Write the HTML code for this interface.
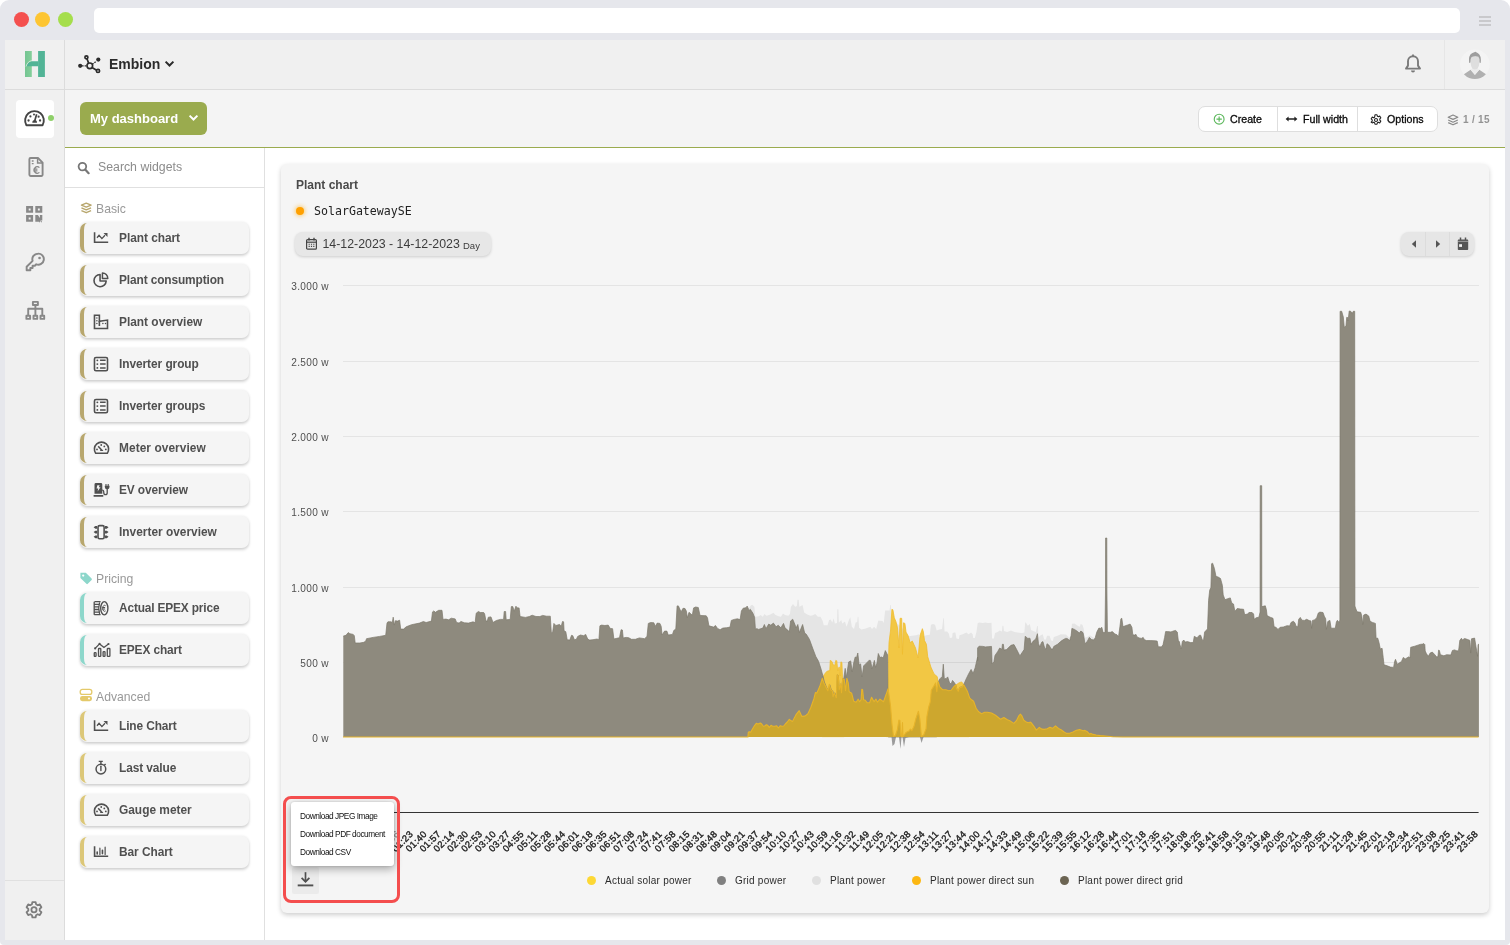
<!DOCTYPE html>
<html lang="en"><head><meta charset="utf-8"><title>Embion - My dashboard</title>
<style>
*{box-sizing:border-box;margin:0;padding:0}
html,body{width:1510px;height:945px;overflow:hidden;background:#fff}
body{font-family:"Liberation Sans",sans-serif;color:#444;position:relative}
.abs,.frame *{position:absolute}
.frame{position:absolute;left:0;top:0;width:1510px;height:945px;background:#e6e7ec;border-radius:9px 9px 4px 4px;overflow:hidden}
.dot{width:15px;height:15px;border-radius:50%;top:12.4px}
.url{left:94px;top:8px;width:1366px;height:25px;background:#fff;border-radius:5px}
.ham{left:1479px;width:12px;height:2px;background:#c9c9cc}
.app{left:5px;top:40px;width:1500px;height:900px;background:#fff;overflow:hidden}
.topbar{left:0;top:0;width:1500px;height:50px;background:#f0f0f0;border-bottom:1px solid #dcdcdc}
.side{left:0;top:0;width:60px;height:900px;background:#f0f0f0;border-right:1px solid #dcdcdc}
.toolbar{left:60px;top:50px;width:1440px;height:58px;background:#f4f4f4;border-bottom:1px solid #9aab4e}
.panel{left:60px;top:108px;width:200px;height:792px;background:#fff;border-right:1px solid #e0e0e0}
.wi b{left:0;top:.8px;width:10px;height:30.4px;border-left:4px solid #b8a76e;border-radius:7px 0 0 7px}
.wi{left:75px;width:169px;height:32px;background:#f5f5f5;border-radius:7px;box-shadow:0 0 3px rgba(0,0,0,.07),0 2px 3px rgba(0,0,0,.16);}
.wi .ic{left:13.1px;top:8px;width:18px;height:16px}
.wi span{left:39px;top:-.5px;line-height:32px;font-weight:bold;font-size:11.9px;color:#505050;white-space:nowrap}
.sec{left:91px;font-size:12.2px;color:#999;line-height:14px}
.card{left:276px;top:124px;width:1207.7px;height:748.6px;background:#f5f5f5;border-radius:6px;box-shadow:0 2px 5px rgba(0,0,0,.2)}
svg.chart{left:0;top:0}
.btng{left:1193px;top:65.7px;width:239.5px;height:26.3px;background:#fff;border:1px solid #dedede;border-radius:7px}
.btng span{top:1.1px;line-height:23px;-webkit-text-stroke:.3px #0a0a0a;font-size:10.65px;color:#0a0a0a;white-space:nowrap}
.btng i{top:0;width:1px;height:24.3px;background:#dedede}
</style></head><body>
<div class="frame">
 <div class="dot" style="left:13.55px;background:#f4504f"></div>
 <div class="dot" style="left:35.45px;background:#fdc532"></div>
 <div class="dot" style="left:57.5px;background:#a5de4c"></div>
 <div class="url"></div>
 <div class="ham" style="top:16px"></div><div class="ham" style="top:20px"></div><div class="ham" style="top:24px"></div>
 <div class="app">
  <div class="topbar"></div>
  <div class="side"></div>
  <div class="toolbar"></div>
  <div class="panel"></div>
  <div style="left:0;top:49px;width:1500px;height:1px;background:#dcdcdc"></div>
  <!-- logo -->
  <svg style="left:20px;top:11px" width="20" height="26" viewBox="0 0 20 26"><defs><linearGradient id="lg" x1="0" x2="1"><stop offset="0" stop-color="#74c592"/><stop offset="1" stop-color="#84cf9a"/></linearGradient></defs><path d="M0 0h6.800v26H0z" fill="url(#lg)"/><path d="M13.100 0h6.800v26h-6.800z" fill="#52b496"/><path d="M1.300 15.200Q2.800 11 6.900 10.300H13.200V15.200Z" fill="#52b496"/><path d="M1 15.500Q2.500 10.400 6.900 9.600" stroke="#f0f0f0" stroke-width=".7" fill="none"/></svg>
  <!-- org -->
  <svg style="left:73px;top:14px" width="24" height="20" viewBox="78 54 24 20"><g fill="none" stroke="#2b2b2b" stroke-width="1.7"><circle cx="89.8" cy="65.8" r="2.8"/><circle cx="86.4" cy="57.3" r="1.5"/><circle cx="98" cy="70.9" r="1.6"/><path d="M87 58.800l1.600 4.300M92 67.600l4.600 2.600"/><path d="M82 65.800h5M92.300 64.200l4.300-3.200" stroke-width="1.3" stroke-dasharray="1.6 1"/></g><circle cx="80.200" cy="65.800" r="2.100" fill="#2b2b2b"/><circle cx="98.300" cy="59.600" r="2.100" fill="#2b2b2b"/></svg>
  <div style="left:104px;top:15px;font-size:14px;font-weight:bold;color:#2b2b2b;line-height:18px">Embion</div>
  <svg style="left:159px;top:20px" width="11" height="8" viewBox="0 0 11 8"><path d="M1.6 1.6l3.9 3.9 3.9-3.9" fill="none" stroke="#2b2b2b" stroke-width="2"/></svg>
  <!-- bell / avatar -->
  <svg style="left:1399px;top:13px" width="18" height="22" viewBox="0 0 18 22"><path d="M9 3.2a5 5 0 0 0-5 5v4.4L2 15.6h14L14 12.6V8.2a5 5 0 0 0-5-5z" fill="none" stroke="#7a7a7a" stroke-width="1.9" stroke-linejoin="round"/><path d="M9 1.4v1.8" stroke="#777" stroke-width="1.8"/><path d="M7 17.4a2 2 0 0 0 4 0z" fill="#777"/></svg>
  <div style="left:1439px;top:0;width:1px;height:49px;background:#e6e6e6"></div>
  <svg style="left:1454px;top:9px" width="32" height="32" viewBox="0 0 32 32"><defs><clipPath id="av"><circle cx="15.900" cy="15.300" r="14.800"/></clipPath></defs><circle cx="15.900" cy="15.300" r="14.800" fill="#f4f4f4"/><g clip-path="url(#av)"><path d="M4.600 25.400L11.600 20.800 15.900 25.800 20.300 20.800 27.400 25.400V31H4.600Z" fill="#b0b0b0"/><path d="M11.600 20.800L15.900 26 20.300 20.800 18.600 19.300H13.300Z" fill="#ececec"/><path d="M11.600 9.500Q11.400 7.600 14 7.400H18Q20.600 7.600 20.400 9.500V14Q20 18 18.600 19.600 16 21.400 13.300 19.600 12 18 11.600 14Z" fill="#dedede"/><path d="M10.100 13.900Q9.200 6.200 13 4.200L16.400 2.800 19 4.200Q22.600 6.400 21.700 13.900L20.500 13.600Q20.900 9.400 19.400 7.800 16.200 6.600 12.600 8 11.300 9.400 11.400 13.600Z" fill="#9e9e9e"/></g></svg>
  <!-- side icons -->
  <div style="left:11px;top:60px;width:38px;height:38px;background:#fff;border-radius:4px"></div>
  <svg style="left:18px;top:69px" width="23" height="19" viewBox="0 0 23 19"><path d="M3.4 16.250A9.370 9.370 0 1 1 19.550 16.250Z" fill="none" stroke="#444" stroke-width="1.900" stroke-linejoin="round"/><path d="M13.640 5.300L11.700 11.900" stroke="#444" stroke-width="1.700"/><path d="M9.300 13.750a2.350 2.700 0 0 1 4.700 0z" fill="#444"/><g fill="#444"><circle cx="7.400" cy="7.450" r="1.100"/><circle cx="11" cy="5.600" r="1"/><circle cx="15.600" cy="7.700" r="1.100"/><circle cx="5.550" cy="11.500" r="1.150"/><circle cx="17.050" cy="11.500" r="1.150"/></g></svg>
  <div style="left:43.1px;top:74.5px;width:6.3px;height:6.3px;border-radius:50%;background:#8fd06a"></div>
  <svg style="left:21.5px;top:115.500px" width="18" height="22" viewBox="0 0 18 22"><path d="M2.400 3.200A1.200 1.200 0 0 1 3.600 2h7.400l4.600 4.600V18.800A1.200 1.200 0 0 1 14.400 20H3.600A1.200 1.200 0 0 1 2.400 18.800z" fill="none" stroke="#888" stroke-width="1.900" stroke-linejoin="round"/><path d="M10.600 2.400v4.600h4.600" fill="none" stroke="#888" stroke-width="1.500"/><path d="M12.400 11.600a3.100 3.300 0 1 0 0 4.800M6.400 13.200h4M6.400 14.900h4" fill="none" stroke="#888" stroke-width="1.300"/><path d="M4.800 5h1.800M4.800 7.600h1.800" stroke="#888" stroke-width="1.400"/></svg>
  <svg style="left:20px;top:165px" width="20" height="19" viewBox="0 0 20 19"><path d="M1.100 1h7v6.800h-7zM3.700 3.500v1.900h1.900V3.500zM10.300 1h7v6.800h-7zM12.900 3.500v1.900h1.900V3.500zM1.100 10h7v6.800h-7zM3.700 12.500v1.900h1.900v-1.900z" fill="#888" fill-rule="evenodd"/><path d="M10.300 10h2.600l2 3V10h2.400v5.400h-1.800v1.400h-5.200z" fill="#888"/><path d="M14 16.200h1v1h-1zM16 16.200h1v1h-1z" fill="#888"/></svg>
  <svg style="left:18.600px;top:211px" width="22.500" height="22.500" viewBox="0 0 22 22"><path d="M13.600 2.600a5.400 5.400 0 0 0-5.200 7L2.600 15.400v3.400h3.600v-2.200h2.200v-2.200h2.200l1.400-1.400a5.400 5.400 0 1 0 1.600-10.400z" fill="none" stroke="#888" stroke-width="1.900" stroke-linejoin="round"/><circle cx="15.200" cy="6.800" r="1.300" fill="#888"/></svg>
  <svg style="left:19px;top:260px" width="22" height="22" viewBox="0 0 22 22"><g fill="none" stroke="#888" stroke-width="1.900" stroke-linejoin="round"><rect x="8.900" y="1.900" width="5" height="3.100"/><rect x="2.400" y="15.700" width="3.700" height="3.200"/><rect x="9.500" y="15.700" width="3.700" height="3.200"/><rect x="16.500" y="15.700" width="3.700" height="3.200"/><path d="M4.200 15V8.800h14.100V15M11.400 5.500V15"/></g></svg>
  <div style="left:0;top:840px;width:59px;height:1px;background:#e0e0e0"></div>
  <svg style="left:19.300px;top:859.600px" width="20" height="20.500" viewBox="0 0 20 20"><g fill="none" stroke="#7d7d7d" stroke-width="1.800" stroke-linejoin="round"><path d="M8.400 1.800h3.200l.5 2.300 1.500.9 2.200-.8 1.600 2.800-1.700 1.600v1.800l1.700 1.600-1.600 2.800-2.200-.8-1.500.9-.5 2.300H8.400l-.5-2.300-1.500-.9-2.200.8-1.600-2.800 1.700-1.600V8.600L2.600 7l1.600-2.800 2.200.8 1.500-.9z"/><circle cx="10" cy="9.500" r="2.600"/></g></svg>
  <!-- My dashboard -->
  <div style="left:75px;top:62px;width:127px;height:33px;background:#9aab4e;border-radius:6px"></div>
  <div style="left:85px;top:62.7px;line-height:32px;font-size:13px;font-weight:bold;color:#fff;white-space:nowrap">My dashboard</div>
  <svg style="left:183px;top:74px" width="11" height="8" viewBox="0 0 11 8"><path d="M1.600 1.600l3.900 3.900 3.900-3.900" fill="none" stroke="#fff" stroke-width="2"/></svg>
  <!-- button group -->
  <div class="btng">
    <i style="left:77.5px"></i><i style="left:157.5px"></i>
    <svg style="left:14.3px;top:6px" width="12.3" height="12.3" viewBox="0 0 12 12"><circle cx="6" cy="6" r="4.800" fill="none" stroke="#5cb85c" stroke-width="1.100"/><path d="M6 3.400v5.200M3.400 6h5.200" stroke="#5cb85c" stroke-width="1.100"/></svg>
    <span style="left:31px">Create</span>
    <svg style="left:86px;top:7px" width="13" height="10" viewBox="0 0 13 10"><path d="M2 5h9" stroke="#222" stroke-width="1.300"/><path d="M0.600 5l3-2.400v4.800zM12.400 5l-3-2.400v4.800z" fill="#222"/></svg>
    <span style="left:104px">Full width</span>
    <svg style="left:171px;top:7px" width="12" height="12" viewBox="0 0 12 12"><path d="M5 .8h2l.4 1.400 1 .5 1.300-.6 1.100 1.700-1 1v1.400l1 1-1.100 1.700-1.300-.6-1 .5-.4 1.400H5l-.4-1.400-1-.5-1.300.6L1.200 8.200l1-1V5.800l-1-1 1.100-1.700 1.300.6 1-.5z" fill="none" stroke="#222" stroke-width="1.100" stroke-linejoin="round"/><circle cx="6" cy="6" r="1.500" fill="none" stroke="#222" stroke-width="1.100"/></svg>
    <span style="left:188px">Options</span>
  </div>
  <svg style="left:1442px;top:74px" width="12" height="12" viewBox="0 0 12 12"><g fill="none" stroke="#8a8a8a" stroke-width="1.200" stroke-linejoin="round"><path d="M6 1l4.800 2.200L6 5.400 1.200 3.200z"/><path d="M1.200 6L6 8.200 10.800 6M1.200 8.600L6 10.800l4.800-2.200"/></g></svg>
  <div style="left:1458px;top:73.4px;font-size:10px;font-weight:bold;color:#939393;line-height:14px;letter-spacing:.3px;white-space:nowrap">1 / 15</div>
  <!-- panel -->
  <div style="left:60px;top:147px;width:199px;height:1px;background:#e0e0e0"></div>
  <svg style="left:72.3px;top:120.6px" width="13" height="14" viewBox="0 0 13 14"><circle cx="5.400" cy="5.600" r="3.800" fill="none" stroke="#777" stroke-width="1.800"/><path d="M8.200 8.600l3.400 3.600" stroke="#777" stroke-width="2.200" stroke-linecap="round"/></svg>
  <div style="left:93px;top:119px;font-size:12.3px;color:#8c8c8c;line-height:16px;white-space:nowrap">Search widgets</div>
  <svg style="left:74.5px;top:161.5px" width="12.5" height="12.5" viewBox="0 0 14 14"><g fill="none" stroke="#b8a76e" stroke-width="1.5" stroke-linejoin="round"><path d="M7 1.200l5.400 2.300L7 5.800 1.600 3.500z"/><path d="M1.600 6.600L7 8.900l5.400-2.300M1.600 9.700L7 12l5.400-2.300"/></g></svg>
  <div class="sec" style="top:161.500px">Basic</div>
  <svg style="left:74px;top:531px" width="14" height="14" viewBox="0 0 14 14"><path d="M1.400 1.800h5.400l5.800 5.800a1 1 0 0 1 0 1.400l-3.800 3.800a1 1 0 0 1-1.400 0L1.400 7z" fill="#8dd7cb"/><circle cx="4.200" cy="4.600" r="1.100" fill="#fff"/></svg>
  <div class="sec" style="top:531.500px">Pricing</div>
  <svg style="left:74px;top:648px" width="14" height="14" viewBox="0 0 14 14"><rect x="1.200" y="1.400" width="11.600" height="5" rx="2.200" fill="none" stroke="#e4c96a" stroke-width="1.300"/><rect x="1" y="8" width="12" height="5.200" rx="2.400" fill="#e4c96a"/><circle cx="10" cy="10.600" r="1" fill="#fff"/></svg>
  <div class="sec" style="top:649.500px">Advanced</div>
  <div class="wi" style="top:182px"><b style="border-left-color:#b8a76e"></b><svg class="ic" viewBox="0 0 18 16"><path d="M1.57 2.2V12.3H15.2" fill="none" stroke="#505050" stroke-width="1.6"/><path d="M4 7.8L6.05 5.4 8.9 8.6 12 5.3" fill="none" stroke="#505050" stroke-width="1.35"/><path d="M10.5 3.1h4v3.9z" fill="#505050"/></svg><span style="letter-spacing:-0.04px">Plant chart</span></div><div class="wi" style="top:224px"><b style="border-left-color:#b8a76e"></b><svg class="ic" viewBox="0 0 18 16"><path d="M7.06 2.5A6.1 6.1 0 1 0 13.2 8.93H7.06Z" fill="none" stroke="#505050" stroke-width="1.6" stroke-linejoin="round"/><path d="M9.43 1V6.39H14.8A5.4 5.4 0 0 0 9.43 1Z" fill="none" stroke="#505050" stroke-width="1.5" stroke-linejoin="round"/></svg><span style="letter-spacing:-0.12px">Plant consumption</span></div><div class="wi" style="top:266px"><b style="border-left-color:#b8a76e"></b><svg class="ic" viewBox="0 0 18 16"><path d="M1.47 1.3H6.38V7.23L14.5 6.05V14.5H1.47Z" fill="none" stroke="#505050" stroke-width="1.6"/><path d="M6.38 7V12" stroke="#505050" stroke-width="1.6"/><g fill="#505050"><circle cx="3.9" cy="4" r=".75"/><circle cx="3.9" cy="6.7" r=".75"/><circle cx="3.9" cy="9.4" r=".75"/><circle cx="9.9" cy="9.4" r=".75"/><circle cx="12.5" cy="9.4" r=".75"/></g></svg><span style="letter-spacing:0px">Plant overview</span></div><div class="wi" style="top:308px"><b style="border-left-color:#b8a76e"></b><svg class="ic" viewBox="0 0 18 16"><rect x="1.47" y="1.48" width="13.03" height="13.2" rx="1.5" fill="none" stroke="#505050" stroke-width="1.6"/><g fill="#505050"><circle cx="4.35" cy="4.36" r=".95"/><circle cx="4.35" cy="8.08" r=".95"/><circle cx="4.35" cy="11.9" r=".95"/></g><path d="M7.06 4.36H12.64M7.06 8.08H12.64M7.06 11.9H12.64" stroke="#505050" stroke-width="1.5"/></svg><span style="letter-spacing:-0.06px">Inverter group</span></div><div class="wi" style="top:350px"><b style="border-left-color:#b8a76e"></b><svg class="ic" viewBox="0 0 18 16"><rect x="1.47" y="1.48" width="13.03" height="13.2" rx="1.5" fill="none" stroke="#505050" stroke-width="1.6"/><g fill="#505050"><circle cx="4.35" cy="4.36" r=".95"/><circle cx="4.35" cy="8.08" r=".95"/><circle cx="4.35" cy="11.9" r=".95"/></g><path d="M7.06 4.36H12.64M7.06 8.08H12.64M7.06 11.9H12.64" stroke="#505050" stroke-width="1.5"/></svg><span style="letter-spacing:-0.06px">Inverter groups</span></div><div class="wi" style="top:392px"><b style="border-left-color:#b8a76e"></b><svg class="ic" viewBox="0 0 18 16"><path d="M2.7 13.3A7.1 7.1 0 1 1 14.3 13.3Z" fill="none" stroke="#505050" stroke-width="1.6" stroke-linejoin="round"/><path d="M5.2 6.3L8.6 10" stroke="#505050" stroke-width="1.5"/><path d="M7 10.9a1.7 1.7 0 0 1 3.3 0z" fill="#505050"/><g fill="#505050"><circle cx="8.24" cy="5" r=".9"/><circle cx="11.3" cy="6.4" r=".9"/><circle cx="4" cy="9.43" r=".9"/><circle cx="12.8" cy="9.43" r=".9"/></g></svg><span style="letter-spacing:0.06px">Meter overview</span></div><div class="wi" style="top:434px"><b style="border-left-color:#b8a76e"></b><svg class="ic" viewBox="0 0 18 16"><path d="M1.5 11.8V2.4A1.4 1.4 0 0 1 2.9 1h5A1.4 1.4 0 0 1 9.3 2.4V11.800Z" fill="#505050"/><rect x=".6" y="13.100" width="9.700" height="1.750" rx=".4" fill="#505050"/><path d="M4.3 3.200h2.300L5.900 5.200h1.600L4.600 9.400 5.200 6.400H3.600Z" fill="#f5f5f5"/><path d="M9.200 8.100c1.600 0 1.600 1.200 1.600 2.600 0 2.600 3.400 2.600 3.400 0V6.800" fill="none" stroke="#505050" stroke-width="1.300"/><path d="M11.800 3.700h4.700v1.200a2.350 2.350 0 0 1-4.700 0Z" fill="#505050"/><path d="M12.980 2v2M15.200 2v2" stroke="#505050" stroke-width="1.100"/></svg><span style="letter-spacing:-0.11px">EV overview</span></div><div class="wi" style="top:476px"><b style="border-left-color:#b8a76e"></b><svg class="ic" viewBox="0 0 18 16"><rect x="5.030" y="1.650" width="6.100" height="13.030" rx="1.500" fill="none" stroke="#505050" stroke-width="1.6"/><g fill="#505050"><path d="M.6 3.340L2.400 2h1.800v2.700H2.400ZM.6 8.080L2.400 6.730h1.800v2.700H2.400ZM.6 12.820L2.400 11.470h1.800v2.700H2.400ZM15.550 3.340L13.750 2h-1.800v2.700h1.800ZM15.550 8.080L13.750 6.730h-1.800v2.700h1.800ZM15.550 12.820L13.750 11.470h-1.800v2.700h1.800Z"/></g></svg><span style="letter-spacing:0px">Inverter overview</span></div><div class="wi" style="top:552px"><b style="border-left-color:#8dd7cb"></b><svg class="ic" viewBox="0 0 18 16"><ellipse cx="11.300" cy="8.250" rx="3.600" ry="6.600" fill="#f5f5f5" stroke="#505050" stroke-width="1.400"/><path d="M12.600 5.700a2 3 0 1 0 0 5.200M9.500 7.500h2.600M9.500 9h2.600" fill="none" stroke="#505050" stroke-width="1"/><path d="M7.600 1.700H1.500M6.400 4.300H1.200M6 6.900H1M6 9.500H1M6.400 12.100H1.200M7.600 14.700H1.200M1.200 1.700v13" fill="none" stroke="#505050" stroke-width="1.300"/><path d="M6.600 2.400Q4.800 8.200 6.600 14" fill="none" stroke="#505050" stroke-width="1.200"/></svg><span style="letter-spacing:-0.16px">Actual EPEX price</span></div><div class="wi" style="top:594px"><b style="border-left-color:#8dd7cb"></b><svg class="ic" viewBox="0 0 18 16"><g fill="none" stroke="#505050" stroke-width="1.300"><rect x="1.250" y="10.600" width="1.800" height="3.750" rx=".6"/><rect x="5.500" y="6.500" width="2.300" height="7.850" rx=".6"/><rect x="10.100" y="9.600" width="1.900" height="4.750" rx=".6"/><rect x="14.300" y="6.500" width="2.600" height="7.850" rx=".6"/><path d="M2.150 6.400L6.550 1.900 10.950 5.500 15.500 2"/></g><g fill="#505050"><circle cx="2.150" cy="6.400" r="1.100"/><circle cx="6.550" cy="1.900" r="1.100"/><circle cx="15.500" cy="2" r="1.100"/></g></svg><span style="letter-spacing:-0.12px">EPEX chart</span></div><div class="wi" style="top:670px"><b style="border-left-color:#dcc778"></b><svg class="ic" viewBox="0 0 18 16"><path d="M1.57 2.2V12.3H15.2" fill="none" stroke="#505050" stroke-width="1.6"/><path d="M4 7.8L6.05 5.4 8.9 8.6 12 5.3" fill="none" stroke="#505050" stroke-width="1.35"/><path d="M10.5 3.1h4v3.9z" fill="#505050"/></svg><span style="letter-spacing:-0.11px">Line Chart</span></div><div class="wi" style="top:712px"><b style="border-left-color:#dcc778"></b><svg class="ic" viewBox="0 0 18 16"><circle cx="7.900" cy="9.100" r="4.850" fill="none" stroke="#505050" stroke-width="1.500"/><path d="M7.900 6.200V10.450" stroke="#505050" stroke-width="1.400" stroke-linecap="round"/><path d="M5.700 1.400H9.800M7.900 1.400V4" stroke="#505050" stroke-width="1.400"/><path d="M11.300 5.200l1.300-1.200" stroke="#505050" stroke-width="1.500"/></svg><span style="letter-spacing:-0.09px">Last value</span></div><div class="wi" style="top:754px"><b style="border-left-color:#dcc778"></b><svg class="ic" viewBox="0 0 18 16"><path d="M2.7 13.3A7.1 7.1 0 1 1 14.3 13.3Z" fill="none" stroke="#505050" stroke-width="1.6" stroke-linejoin="round"/><path d="M5.2 6.3L8.6 10" stroke="#505050" stroke-width="1.5"/><path d="M7 10.9a1.7 1.7 0 0 1 3.3 0z" fill="#505050"/><g fill="#505050"><circle cx="8.24" cy="5" r=".9"/><circle cx="11.3" cy="6.4" r=".9"/><circle cx="4" cy="9.43" r=".9"/><circle cx="12.8" cy="9.43" r=".9"/></g></svg><span style="letter-spacing:0px">Gauge meter</span></div><div class="wi" style="top:796px"><b style="border-left-color:#dcc778"></b><svg class="ic" viewBox="0 0 18 16"><path d="M1.570 2.200V12.300H15.200" fill="none" stroke="#505050" stroke-width="1.6"/><path d="M6.900 4.200V10.450M12.130 3.200V10.450" stroke="#505050" stroke-width="1.200" stroke-linecap="round"/><path d="M4.200 8V9.900M9.450 6.300V9.600" stroke="#505050" stroke-width="1.600" stroke-linecap="round"/></svg><span style="letter-spacing:-0.05px">Bar Chart</span></div>
  <!-- card -->
  <div class="card"></div>
  <div style="left:291px;top:137px;font-size:12px;font-weight:bold;color:#4a4a4a;line-height:16px;white-space:nowrap">Plant chart</div>
  <div style="left:291px;top:167px;width:8px;height:8px;border-radius:50%;background:#ffa000;box-shadow:0 0 4px 1px rgba(255,170,0,.55)"></div>
  <div style="left:309px;top:163px;font-family:'DejaVu Sans Mono','Liberation Mono',monospace;font-size:11.6px;color:#222;line-height:16px;white-space:nowrap">SolarGatewaySE</div>
  <div style="left:290.3px;top:192px;width:196px;height:24.3px;background:#e7e7e7;border-radius:8px;box-shadow:0 1px 3px rgba(0,0,0,.17)"></div>
  <svg style="left:300px;top:197px" width="13" height="14" viewBox="0 0 13 14"><rect x="1.600" y="2.600" width="9.800" height="9.600" rx="1" fill="none" stroke="#444" stroke-width="1.200"/><path d="M1.600 5.200h9.800" stroke="#444" stroke-width="1.200"/><path d="M4 .8v2.600M9 .8v2.600" stroke="#444" stroke-width="1.400"/><path d="M3.600 7.200h1.200M5.900 7.200h1.200M8.200 7.200h1.200M3.600 9.400h1.200M5.900 9.400h1.200M8.200 9.400h1.200" stroke="#444" stroke-width="1.100"/></svg>
  <div style="left:317.5px;top:196px;font-size:12.35px;color:#3c3c3c;line-height:16px;white-space:nowrap">14-12-2023 - 14-12-2023</div>
  <div style="left:458px;top:200px;font-size:9.5px;color:#3c3c3c;line-height:12px;white-space:nowrap">Day</div>
  <div style="left:1396.3px;top:192px;width:72.7px;height:24px;background:#e6e6e6;border-radius:8px;box-shadow:0 1px 3px rgba(0,0,0,.17)"></div>
  <div style="left:1420px;top:192px;width:1px;height:24px;background:#dcdcdc"></div>
  <div style="left:1444px;top:192px;width:1px;height:24px;background:#dcdcdc"></div>
  <svg style="left:1405.5px;top:198.500px" width="6" height="10" viewBox="0 0 6 10"><path d="M5 1.200v7.600L.8 5z" fill="#555"/></svg>
  <svg style="left:1430px;top:198.500px" width="6" height="10" viewBox="0 0 6 10"><path d="M1 1.200v7.600L5.200 5z" fill="#555"/></svg>
  <svg style="left:1451.5px;top:196.500px" width="12" height="14" viewBox="0 0 12 14"><path d="M.8 3.200A.8.8 0 0 1 1.600 2.400h8.800a.8.8 0 0 1 .8.800V12.200a.8.8 0 0 1-.8.800H1.600a.8.800 0 0 1-.8-.8z" fill="#555"/><path d="M3.500 .6v2.400M8.500 .6v2.400" stroke="#555" stroke-width="1.500"/><path d="M.8 4.400h10.400" stroke="#e6e6e6" stroke-width=".5"/><rect x="2.100" y="7.200" width="2.900" height="2.700" fill="#f0f0f0"/></svg>
 </div>
 
<svg class="chart" width="1510" height="945" viewBox="0 0 1510 945">
 <g stroke="#e4e4e4" stroke-width="1" shape-rendering="crispEdges"><line x1="343" x2="1478.6" y1="285.5" y2="285.5"/><line x1="343" x2="1478.6" y1="361.5" y2="361.5"/><line x1="343" x2="1478.6" y1="436.5" y2="436.5"/><line x1="343" x2="1478.6" y1="511.5" y2="511.5"/><line x1="343" x2="1478.6" y1="587.5" y2="587.5"/><line x1="343" x2="1478.6" y1="662.5" y2="662.5"/></g>
 <g font-family="Liberation Sans, sans-serif" font-size="10.1" letter-spacing="0.35" fill="#505050"><text x="329" y="289.9" text-anchor="end">3.000 w</text><text x="329" y="365.9" text-anchor="end">2.500 w</text><text x="329" y="440.9" text-anchor="end">2.000 w</text><text x="329" y="515.9" text-anchor="end">1.500 w</text><text x="329" y="591.9" text-anchor="end">1.000 w</text><text x="329" y="666.9" text-anchor="end">500 w</text><text x="329" y="741.9" text-anchor="end">0 w</text></g>
 <path d="M748.0 737.0L748.0 695.0L749.1 607.7L750.7 605.6L752.3 604.7L754.4 606.7L755.4 616.7L758.6 616.2L760.7 615.1L762.8 616.7L764.4 614.1L766.6 615.7L770.3 614.6L773.4 612.8L775.6 615.1L778.7 616.2L780.9 616.7L783.0 613.5L785.1 615.1L788.3 615.7L789.9 614.1L790.9 606.7L793.0 604.0L795.2 606.7L796.8 606.1L797.5 599.8L798.7 599.8L799.4 606.7L802.6 605.1L804.2 612.5L807.4 614.6L810.5 615.7L812.6 615.3L815.3 614.1L817.9 616.7L820.6 616.7L822.7 621.0L823.8 625.2L827.5 625.2L829.1 619.9L830.7 619.4L832.3 622.5L833.6 618.3L834.9 623.6L837.0 623.1L837.3 609.3L838.4 609.3L838.9 622.5L841.3 619.9L842.3 623.6L845.0 621.5L846.6 626.8L848.7 620.4L850.3 617.3L851.9 626.8L854.0 628.9L855.6 622.5L857.2 622.0L857.7 616.7L858.4 616.7L859.1 627.8L861.4 629.4L865.6 628.4L870.4 626.8L872.0 628.9L874.1 626.8L876.2 628.9L878.3 620.4L882.6 621.0L883.7 623.1L885.1 610.4L889.5 610.4L890.3 605.1L890.9 605.1L891.4 616.2L895.9 622.5L901.2 626.8L908.6 636.3L911.8 635.8L916.0 635.3L918.7 634.2L919.4 637.4L926.1 635.3L929.8 634.7L930.9 624.7L933.0 624.1L935.1 624.7L936.7 630.5L939.3 629.4L942.0 628.9L943.3 618.3L943.9 618.3L944.6 631.6L947.3 631.6L948.9 633.7L949.9 637.9L952.1 637.4L952.6 633.1L954.2 632.6L955.4 632.6L956.5 638.4L958.9 639.0L959.5 635.3L962.6 634.2L966.4 632.6L968.5 634.2L971.1 632.6L972.7 634.2L973.2 637.9L974.8 637.9L976.4 632.1L977.7 623.1L979.6 622.5L982.8 623.1L985.4 622.5L988.1 623.1L991.5 622.8L992.1 638.4L993.9 638.4L995.0 633.1L997.6 632.1L999.7 630.5L1001.9 631.6L1002.4 625.7L1003.4 625.7L1004.0 631.0L1007.2 632.1L1010.9 630.5L1014.6 632.1L1017.7 632.6L1022.0 633.1L1024.3 632.6L1025.2 622.3L1026.2 623.1L1027.8 625.7L1029.9 624.1L1030.0 624.7L1031.1 630.0L1033.2 631.0L1035.8 632.1L1037.2 625.7L1037.9 626.3L1038.5 637.4L1040.6 635.3L1042.7 634.2L1044.3 639.5L1045.9 639.5L1047.0 635.8L1049.6 635.8L1051.2 640.6L1052.8 641.1L1053.8 636.9L1057.5 635.8L1060.7 634.2L1066.0 634.4L1069.2 637.4L1071.1 635.3L1071.9 623.8L1074.5 623.6L1077.7 625.7L1079.8 626.8L1080.6 624.1L1082.5 624.7L1083.8 628.9L1084.6 637.4L1087.2 636.9L1089.9 635.3L1092.5 636.9L1094.6 637.9L1095.2 695.0L1095.2 737.0Z" fill="#000" fill-opacity="0.062"/>
 <clipPath id="cb"><rect x="340" y="280" width="1142" height="457.3"/></clipPath>
 <g clip-path="url(#cb)"><path d="M822.3 737.0L822.3 736.7L822.8 677.4L824.3 674.4L826.8 671.4L829.8 670.4L830.3 660.4L831.8 661.4L833.3 664.9L834.8 665.4L835.8 660.4L836.8 660.9L837.7 670.9L839.2 666.9L840.2 675.9L840.9 661.9L841.9 662.4L842.5 677.9L843.7 678.8L844.2 736.7L844.2 737.0Z" fill="#f2c744" stroke="#f0bd2f" stroke-width="0.8"/>
 <path d="M886.4 737.0L886.4 737.0L888.3 669.2L889.0 642.7L890.6 630.0L891.9 609.3L892.9 609.8L894.3 617.8L895.9 621.5L897.5 627.8L899.1 648.0L900.1 618.3L901.7 618.3L902.5 654.3L903.5 622.8L904.9 623.4L906.0 632.1L908.1 635.8L910.2 642.7L912.3 641.1L915.5 648.0L918.1 658.0L920.1 635.3L922.4 628.7L923.4 632.1L924.5 640.6L926.4 644.3L927.7 656.5L930.9 667.1L934.0 673.9L937.2 676.6L938.8 685.1L941.5 688.8L944.6 689.8L948.9 690.9L952.1 689.3L955.8 685.1L958.9 682.9L961.6 681.9L963.7 684.5L966.4 689.3L968.5 695.0L969.0 737.0L969.0 737.0Z" fill="#f2c744" stroke="#f0bd2f" stroke-width="0.8"/></g>
 <g fill="#9b9b9b"><path d="M891.5 737.0L892.5 746.0L894.5 744.0L896.0 737.0Z"/><path d="M899.0 737.0L900.5 749.0L901.5 737.0Z"/><path d="M902.5 737.0L904.0 747.0L905.5 738.0L909.0 737.0Z"/><path d="M920.0 737.0L921.5 743.0L923.5 737.0Z"/></g>
 <path d="M343.3 737.0L343.3 636.1L346.0 635.3L348.2 632.6L349.9 633.7L353.2 634.4L354.3 635.7L355.2 643.0L359.9 643.0L363.8 642.3L365.8 641.0L366.5 638.7L373.1 637.4L379.7 636.4L385.7 635.3L387.0 623.1L387.9 621.8L391.0 621.8L392.3 622.5L393.2 617.2L394.3 625.1L395.4 620.7L397.6 621.1L399.6 620.2L400.7 629.1L403.6 629.1L406.2 626.8L411.5 624.7L419.5 623.1L423.4 621.5L426.1 622.5L431.4 621.1L432.5 611.9L433.8 610.9L435.4 612.3L438.7 610.3L442.0 610.3L443.0 619.4L446.0 619.1L448.6 619.8L451.3 618.2L455.2 618.9L456.6 622.5L459.2 623.1L460.8 621.4L464.5 622.8L468.5 623.1L473.1 621.8L475.1 622.8L476.2 613.2L478.4 611.5L480.4 612.5L483.7 612.5L484.6 613.8L486.0 621.1L487.3 621.1L488.3 617.2L491.0 616.9L493.0 622.5L496.3 620.5L500.3 619.4L503.6 619.4L504.2 611.5L505.6 611.5L506.2 619.8L510.2 619.4L511.3 606.6L512.8 606.6L514.2 611.2L515.9 606.2L517.5 607.9L519.1 607.9L520.1 616.5L525.4 617.4L529.4 616.5L532.1 615.2L536.0 616.5L539.3 616.5L540.0 616.5L542.6 615.4L546.6 616.2L550.3 616.2L551.3 632.4L552.6 632.6L553.9 623.4L555.9 625.5L559.6 624.4L561.2 626.4L562.5 621.5L563.6 621.8L564.1 630.8L565.8 631.7L567.2 639.7L569.8 640.1L571.5 635.3L572.8 635.7L574.4 639.7L576.4 639.3L577.7 636.4L580.4 635.0L583.7 635.7L585.7 634.4L587.7 639.0L589.7 640.1L593.0 639.7L597.0 639.0L598.9 639.7L599.9 625.8L601.6 625.1L604.9 625.5L608.2 625.1L610.2 628.4L612.6 628.7L613.9 639.0L616.8 638.3L619.5 637.7L621.1 629.7L622.4 630.0L623.2 637.9L626.1 637.4L628.7 637.7L631.4 639.3L635.4 639.3L639.3 637.9L644.6 638.7L647.0 636.4L648.3 623.4L650.6 622.5L653.9 622.8L655.2 626.4L657.2 623.1L659.9 623.4L661.2 626.4L662.1 635.0L664.5 631.1L666.9 631.1L668.2 635.0L672.5 634.4L673.8 630.4L675.8 629.1L677.1 605.9L678.4 605.9L681.1 611.9L683.0 608.3L685.0 608.5L686.4 611.2L687.3 617.8L689.0 612.3L692.3 615.2L693.6 607.9L695.6 607.0L698.3 607.5L700.0 615.4L706.2 615.8L707.5 617.8L708.9 625.8L713.5 627.1L715.5 625.5L717.5 628.4L720.1 629.7L722.8 628.1L726.8 627.7L730.1 627.1L730.1 626.8L731.3 620.4L734.2 619.4L737.4 618.8L740.1 619.6L741.4 610.9L743.2 608.2L745.9 607.7L747.2 606.1L749.1 610.4L750.3 609.3L752.8 613.0L754.6 617.3L755.4 628.9L757.0 628.7L758.6 629.4L762.8 628.1L764.4 624.5L766.0 628.7L768.7 624.1L770.8 625.2L773.4 623.1L776.1 626.8L778.2 625.2L780.9 627.8L783.5 623.4L785.1 628.1L787.7 630.0L789.3 632.1L790.6 621.0L792.7 619.2L794.1 622.5L796.2 627.8L797.8 624.5L799.4 632.6L802.6 624.5L804.7 633.1L806.3 634.2L809.5 639.5L812.6 648.0L815.8 656.5L818.5 661.2L821.1 669.2L823.2 677.1L823.2 676.9L824.3 681.8L826.3 686.8L828.3 690.8L829.8 684.8L831.3 689.8L832.8 690.8L833.8 696.8L834.8 692.8L836.8 697.7L837.3 674.9L838.3 675.4L839.2 689.8L840.7 683.8L841.5 692.8L842.7 678.8L843.7 678.8L845.2 668.4L846.2 677.9L848.7 661.9L850.7 660.9L852.2 671.9L853.7 662.9L855.2 657.0L856.6 657.5L857.8 653.0L859.1 664.9L860.6 663.9L862.1 676.9L863.6 665.9L866.6 662.9L869.6 659.9L870.6 660.9L872.1 668.9L874.4 660.4L875.5 667.4L877.0 662.9L878.3 653.5L880.0 657.5L881.6 657.0L883.2 658.0L885.3 650.6L887.6 654.9L888.2 737.0L888.5 737.0L936.8 736.8L937.0 691.8L938.3 681.9L939.8 678.9L942.3 676.4L943.3 664.2L944.3 678.9L946.3 678.4L947.7 676.9L949.7 683.3L951.2 683.8L952.5 680.4L954.2 682.4L955.7 684.8L957.2 689.8L958.7 691.3L959.7 687.3L962.7 686.8L963.7 684.8L965.7 679.9L968.6 673.9L971.1 669.4L973.1 673.4L975.1 667.9L977.6 657.0L977.6 660.7L977.6 648.0L979.1 646.2L982.8 646.4L985.4 646.9L988.1 646.7L991.5 646.4L992.1 663.9L993.9 661.8L995.0 655.4L997.6 651.7L999.7 648.0L1001.9 649.3L1002.4 644.3L1003.4 644.3L1004.0 650.1L1006.6 649.6L1010.9 645.3L1014.0 644.6L1016.7 649.6L1019.9 655.9L1024.1 649.6L1025.2 636.3L1027.8 638.4L1029.9 638.2L1030.0 638.4L1031.1 644.3L1033.2 641.1L1035.8 639.0L1037.4 633.7L1038.5 643.7L1039.7 646.9L1041.7 642.2L1042.9 641.6L1044.8 648.5L1045.9 649.0L1047.0 643.7L1049.1 645.3L1051.2 649.0L1052.8 649.0L1053.8 646.4L1057.5 644.3L1061.8 640.6L1065.5 638.4L1067.1 638.4L1069.7 640.6L1071.1 635.8L1071.9 628.4L1074.5 629.4L1077.7 631.6L1079.3 633.1L1080.9 631.0L1083.0 632.6L1084.0 637.4L1084.9 643.7L1087.2 641.6L1089.3 637.4L1091.5 639.5L1093.6 640.0L1095.2 637.9L1096.8 632.1L1098.9 628.1L1100.5 628.4L1101.8 627.3L1103.1 632.6L1105.0 632.6L1105.5 590.0L1105.6 538.0L1106.8 538.0L1106.9 590.0L1107.4 632.3L1110.5 632.3L1112.4 631.6L1114.8 634.0L1116.9 634.7L1118.5 636.9L1119.9 626.8L1120.9 618.8L1121.8 618.3L1123.0 626.8L1125.4 625.7L1128.0 624.9L1130.1 624.1L1131.9 627.3L1132.8 634.7L1134.4 635.1L1136.0 634.4L1137.0 636.9L1139.1 637.9L1141.3 638.4L1143.2 637.4L1144.4 639.7L1146.6 640.6L1150.8 640.6L1155.0 640.8L1157.2 641.1L1158.2 646.7L1161.4 646.9L1163.0 644.8L1164.6 637.4L1165.6 631.6L1167.7 631.6L1170.9 631.9L1174.1 630.8L1175.7 630.5L1177.3 632.1L1178.3 640.6L1179.4 641.6L1180.0 644.8L1181.3 649.0L1182.3 641.6L1183.7 640.0L1185.3 642.1L1187.4 641.6L1190.6 642.6L1193.2 642.6L1194.3 636.3L1197.0 637.9L1199.1 635.4L1200.7 635.2L1202.3 640.0L1203.5 640.5L1204.6 632.1L1207.5 628.9L1208.6 600.3L1209.7 590.2L1210.9 587.5L1211.6 563.7L1212.6 563.2L1214.4 568.5L1216.0 576.4L1218.1 577.0L1220.5 578.5L1222.4 585.4L1223.2 595.0L1225.0 599.7L1227.7 598.7L1230.3 597.9L1231.7 602.9L1233.5 604.0L1234.9 611.4L1237.2 608.5L1240.4 609.0L1243.6 609.3L1244.6 614.6L1247.8 614.0L1248.9 612.5L1252.1 612.5L1253.6 614.0L1254.2 619.3L1256.3 617.7L1258.9 617.2L1260.1 612.0L1260.2 485.7L1261.7 485.7L1261.8 606.0L1262.1 606.6L1265.3 605.8L1266.4 609.8L1267.1 615.6L1270.1 617.2L1273.0 618.3L1274.1 626.8L1275.9 627.3L1278.0 629.4L1280.1 627.3L1283.3 627.0L1287.0 625.7L1289.7 625.9L1291.0 622.5L1293.4 621.2L1295.0 623.0L1296.0 626.2L1297.8 626.8L1298.7 619.3L1300.3 617.4L1301.9 620.2L1304.5 620.4L1306.6 619.3L1309.3 620.6L1310.9 620.9L1311.6 628.3L1312.5 620.4L1314.6 619.9L1316.7 617.7L1318.3 613.0L1319.9 612.1L1323.0 612.5L1324.3 616.2L1325.7 618.8L1326.4 629.4L1327.8 621.5L1329.9 620.4L1331.1 628.2L1335.3 628.2L1336.4 621.9L1337.4 620.3L1339.0 622.4L1339.9 620.0L1340.1 311.3L1341.7 311.3L1343.3 317.0L1344.3 327.5L1346.0 325.5L1346.7 317.3L1347.7 317.6L1348.1 321.0L1349.2 311.0L1350.7 311.3L1352.3 313.3L1353.3 311.3L1354.7 311.3L1354.9 606.0L1355.6 608.1L1357.0 611.8L1360.7 612.3L1361.8 616.0L1362.8 624.5L1363.7 615.0L1366.0 614.1L1368.7 616.0L1370.1 621.3L1372.4 622.4L1375.4 623.4L1376.1 638.3L1377.7 638.1L1379.0 642.5L1380.3 648.9L1382.1 648.3L1383.2 657.4L1384.0 664.8L1387.2 665.8L1390.4 667.1L1393.6 667.4L1394.6 661.6L1395.5 659.3L1397.3 664.2L1399.9 662.6L1401.5 661.4L1403.3 657.4L1405.2 658.9L1408.9 656.8L1410.0 657.9L1410.7 647.3L1414.8 646.2L1420.1 644.4L1422.7 644.1L1423.8 643.6L1424.8 644.6L1425.2 651.0L1426.4 653.6L1428.3 656.3L1430.1 653.1L1432.3 652.1L1434.4 654.2L1436.5 656.8L1437.9 656.8L1438.6 650.1L1439.4 650.5L1440.4 654.7L1443.9 655.8L1446.6 654.7L1450.8 655.0L1452.4 650.5L1454.5 649.9L1457.2 651.0L1458.7 649.9L1459.8 640.4L1461.4 638.3L1462.5 639.9L1464.6 638.5L1467.7 639.5L1469.9 640.4L1470.7 653.1L1471.5 638.8L1474.6 638.1L1476.0 646.8L1477.6 656.3L1478.1 644.6L1478.9 644.1L1478.9 737.0Z" fill="#8e8a7e"/>
 <path d="M343.3 636.1L346.0 635.3L348.2 632.6L349.9 633.7L353.2 634.4L354.3 635.7L355.2 643.0L359.9 643.0L363.8 642.3L365.8 641.0L366.5 638.7L373.1 637.4L379.7 636.4L385.7 635.3L387.0 623.1L387.9 621.8L391.0 621.8L392.3 622.5L393.2 617.2L394.3 625.1L395.4 620.7L397.6 621.1L399.6 620.2L400.7 629.1L403.6 629.1L406.2 626.8L411.5 624.7L419.5 623.1L423.4 621.5L426.1 622.5L431.4 621.1L432.5 611.9L433.8 610.9L435.4 612.3L438.7 610.3L442.0 610.3L443.0 619.4L446.0 619.1L448.6 619.8L451.3 618.2L455.2 618.9L456.6 622.5L459.2 623.1L460.8 621.4L464.5 622.8L468.5 623.1L473.1 621.8L475.1 622.8L476.2 613.2L478.4 611.5L480.4 612.5L483.7 612.5L484.6 613.8L486.0 621.1L487.3 621.1L488.3 617.2L491.0 616.9L493.0 622.5L496.3 620.5L500.3 619.4L503.6 619.4L504.2 611.5L505.6 611.5L506.2 619.8L510.2 619.4L511.3 606.6L512.8 606.6L514.2 611.2L515.9 606.2L517.5 607.9L519.1 607.9L520.1 616.5L525.4 617.4L529.4 616.5L532.1 615.2L536.0 616.5L539.3 616.5L540.0 616.5L542.6 615.4L546.6 616.2L550.3 616.2L551.3 632.4L552.6 632.6L553.9 623.4L555.9 625.5L559.6 624.4L561.2 626.4L562.5 621.5L563.6 621.8L564.1 630.8L565.8 631.7L567.2 639.7L569.8 640.1L571.5 635.3L572.8 635.7L574.4 639.7L576.4 639.3L577.7 636.4L580.4 635.0L583.7 635.7L585.7 634.4L587.7 639.0L589.7 640.1L593.0 639.7L597.0 639.0L598.9 639.7L599.9 625.8L601.6 625.1L604.9 625.5L608.2 625.1L610.2 628.4L612.6 628.7L613.9 639.0L616.8 638.3L619.5 637.7L621.1 629.7L622.4 630.0L623.2 637.9L626.1 637.4L628.7 637.7L631.4 639.3L635.4 639.3L639.3 637.9L644.6 638.7L647.0 636.4L648.3 623.4L650.6 622.5L653.9 622.8L655.2 626.4L657.2 623.1L659.9 623.4L661.2 626.4L662.1 635.0L664.5 631.1L666.9 631.1L668.2 635.0L672.5 634.4L673.8 630.4L675.8 629.1L677.1 605.9L678.4 605.9L681.1 611.9L683.0 608.3L685.0 608.5L686.4 611.2L687.3 617.8L689.0 612.3L692.3 615.2L693.6 607.9L695.6 607.0L698.3 607.5L700.0 615.4L706.2 615.8L707.5 617.8L708.9 625.8L713.5 627.1L715.5 625.5L717.5 628.4L720.1 629.7L722.8 628.1L726.8 627.7L730.1 627.1L730.1 626.8L731.3 620.4L734.2 619.4L737.4 618.8L740.1 619.6L741.4 610.9L743.2 608.2L745.9 607.7L747.2 606.1L749.1 610.4L750.3 609.3L752.8 613.0L754.6 617.3L755.4 628.9L757.0 628.7L758.6 629.4L762.8 628.1L764.4 624.5L766.0 628.7L768.7 624.1L770.8 625.2L773.4 623.1L776.1 626.8L778.2 625.2L780.9 627.8L783.5 623.4L785.1 628.1L787.7 630.0L789.3 632.1L790.6 621.0L792.7 619.2L794.1 622.5L796.2 627.8L797.8 624.5L799.4 632.6L802.6 624.5L804.7 633.1L806.3 634.2L809.5 639.5L812.6 648.0L815.8 656.5L818.5 661.2L821.1 669.2L823.2 677.1L823.2 676.9L824.3 681.8L826.3 686.8L828.3 690.8L829.8 684.8L831.3 689.8L832.8 690.8L833.8 696.8L834.8 692.8L836.8 697.7L837.3 674.9L838.3 675.4L839.2 689.8L840.7 683.8L841.5 692.8L842.7 678.8L843.7 678.8L845.2 668.4L846.2 677.9L848.7 661.9L850.7 660.9L852.2 671.9L853.7 662.9L855.2 657.0L856.6 657.5L857.8 653.0L859.1 664.9L860.6 663.9L862.1 676.9L863.6 665.9L866.6 662.9L869.6 659.9L870.6 660.9L872.1 668.9L874.4 660.4L875.5 667.4L877.0 662.9L878.3 653.5L880.0 657.5L881.6 657.0L883.2 658.0L885.3 650.6L887.6 654.9L888.2 737.0L888.5 737.0L936.8 736.8L937.0 691.8L938.3 681.9L939.8 678.9L942.3 676.4L943.3 664.2L944.3 678.9L946.3 678.4L947.7 676.9L949.7 683.3L951.2 683.8L952.5 680.4L954.2 682.4L955.7 684.8L957.2 689.8L958.7 691.3L959.7 687.3L962.7 686.8L963.7 684.8L965.7 679.9L968.6 673.9L971.1 669.4L973.1 673.4L975.1 667.9L977.6 657.0L977.6 660.7L977.6 648.0L979.1 646.2L982.8 646.4L985.4 646.9L988.1 646.7L991.5 646.4L992.1 663.9L993.9 661.8L995.0 655.4L997.6 651.7L999.7 648.0L1001.9 649.3L1002.4 644.3L1003.4 644.3L1004.0 650.1L1006.6 649.6L1010.9 645.3L1014.0 644.6L1016.7 649.6L1019.9 655.9L1024.1 649.6L1025.2 636.3L1027.8 638.4L1029.9 638.2L1030.0 638.4L1031.1 644.3L1033.2 641.1L1035.8 639.0L1037.4 633.7L1038.5 643.7L1039.7 646.9L1041.7 642.2L1042.9 641.6L1044.8 648.5L1045.9 649.0L1047.0 643.7L1049.1 645.3L1051.2 649.0L1052.8 649.0L1053.8 646.4L1057.5 644.3L1061.8 640.6L1065.5 638.4L1067.1 638.4L1069.7 640.6L1071.1 635.8L1071.9 628.4L1074.5 629.4L1077.7 631.6L1079.3 633.1L1080.9 631.0L1083.0 632.6L1084.0 637.4L1084.9 643.7L1087.2 641.6L1089.3 637.4L1091.5 639.5L1093.6 640.0L1095.2 637.9L1096.8 632.1L1098.9 628.1L1100.5 628.4L1101.8 627.3L1103.1 632.6L1105.0 632.6L1105.5 590.0L1105.6 538.0L1106.8 538.0L1106.9 590.0L1107.4 632.3L1110.5 632.3L1112.4 631.6L1114.8 634.0L1116.9 634.7L1118.5 636.9L1119.9 626.8L1120.9 618.8L1121.8 618.3L1123.0 626.8L1125.4 625.7L1128.0 624.9L1130.1 624.1L1131.9 627.3L1132.8 634.7L1134.4 635.1L1136.0 634.4L1137.0 636.9L1139.1 637.9L1141.3 638.4L1143.2 637.4L1144.4 639.7L1146.6 640.6L1150.8 640.6L1155.0 640.8L1157.2 641.1L1158.2 646.7L1161.4 646.9L1163.0 644.8L1164.6 637.4L1165.6 631.6L1167.7 631.6L1170.9 631.9L1174.1 630.8L1175.7 630.5L1177.3 632.1L1178.3 640.6L1179.4 641.6L1180.0 644.8L1181.3 649.0L1182.3 641.6L1183.7 640.0L1185.3 642.1L1187.4 641.6L1190.6 642.6L1193.2 642.6L1194.3 636.3L1197.0 637.9L1199.1 635.4L1200.7 635.2L1202.3 640.0L1203.5 640.5L1204.6 632.1L1207.5 628.9L1208.6 600.3L1209.7 590.2L1210.9 587.5L1211.6 563.7L1212.6 563.2L1214.4 568.5L1216.0 576.4L1218.1 577.0L1220.5 578.5L1222.4 585.4L1223.2 595.0L1225.0 599.7L1227.7 598.7L1230.3 597.9L1231.7 602.9L1233.5 604.0L1234.9 611.4L1237.2 608.5L1240.4 609.0L1243.6 609.3L1244.6 614.6L1247.8 614.0L1248.9 612.5L1252.1 612.5L1253.6 614.0L1254.2 619.3L1256.3 617.7L1258.9 617.2L1260.1 612.0L1260.2 485.7L1261.7 485.7L1261.8 606.0L1262.1 606.6L1265.3 605.8L1266.4 609.8L1267.1 615.6L1270.1 617.2L1273.0 618.3L1274.1 626.8L1275.9 627.3L1278.0 629.4L1280.1 627.3L1283.3 627.0L1287.0 625.7L1289.7 625.9L1291.0 622.5L1293.4 621.2L1295.0 623.0L1296.0 626.2L1297.8 626.8L1298.7 619.3L1300.3 617.4L1301.9 620.2L1304.5 620.4L1306.6 619.3L1309.3 620.6L1310.9 620.9L1311.6 628.3L1312.5 620.4L1314.6 619.9L1316.7 617.7L1318.3 613.0L1319.9 612.1L1323.0 612.5L1324.3 616.2L1325.7 618.8L1326.4 629.4L1327.8 621.5L1329.9 620.4L1331.1 628.2L1335.3 628.2L1336.4 621.9L1337.4 620.3L1339.0 622.4L1339.9 620.0L1340.1 311.3L1341.7 311.3L1343.3 317.0L1344.3 327.5L1346.0 325.5L1346.7 317.3L1347.7 317.6L1348.1 321.0L1349.2 311.0L1350.7 311.3L1352.3 313.3L1353.3 311.3L1354.7 311.3L1354.9 606.0L1355.6 608.1L1357.0 611.8L1360.7 612.3L1361.8 616.0L1362.8 624.5L1363.7 615.0L1366.0 614.1L1368.7 616.0L1370.1 621.3L1372.4 622.4L1375.4 623.4L1376.1 638.3L1377.7 638.1L1379.0 642.5L1380.3 648.9L1382.1 648.3L1383.2 657.4L1384.0 664.8L1387.2 665.8L1390.4 667.1L1393.6 667.4L1394.6 661.6L1395.5 659.3L1397.3 664.2L1399.9 662.6L1401.5 661.4L1403.3 657.4L1405.2 658.9L1408.9 656.8L1410.0 657.9L1410.7 647.3L1414.8 646.2L1420.1 644.4L1422.7 644.1L1423.8 643.6L1424.8 644.6L1425.2 651.0L1426.4 653.6L1428.3 656.3L1430.1 653.1L1432.3 652.1L1434.4 654.2L1436.5 656.8L1437.9 656.8L1438.6 650.1L1439.4 650.5L1440.4 654.7L1443.9 655.8L1446.6 654.7L1450.8 655.0L1452.4 650.5L1454.5 649.9L1457.2 651.0L1458.7 649.9L1459.8 640.4L1461.4 638.3L1462.5 639.9L1464.6 638.5L1467.7 639.5L1469.9 640.4L1470.7 653.1L1471.5 638.8L1474.6 638.1L1476.0 646.8L1477.6 656.3L1478.1 644.6L1478.9 644.1" fill="none" stroke="#7c786b" stroke-width="0.7" stroke-linejoin="round"/>
 <path d="M747.9 737.0L747.9 737.0L748.0 736.0L748.3 732.3L749.3 731.7L750.7 732.3L752.3 729.3L754.7 725.3L756.3 723.3L758.0 724.0L760.3 723.0L761.7 724.0L763.3 726.3L764.7 726.0L766.3 724.7L767.7 725.3L769.3 727.3L771.0 725.3L772.7 726.3L774.7 726.3L776.7 725.7L778.3 728.0L780.3 725.7L782.0 726.3L783.7 726.0L785.3 724.0L787.3 722.0L789.3 719.3L790.0 720.1L792.5 721.4L796.0 714.7L799.2 710.7L801.9 716.4L804.9 716.1L807.9 713.7L810.9 707.2L813.9 698.7L815.4 692.6L816.9 693.0L819.8 686.3L822.3 678.3L823.8 682.8L825.8 686.8L827.8 690.8L829.3 684.3L830.8 689.8L832.3 690.8L833.0 696.8L834.3 692.8L836.3 697.7L837.2 674.9L838.2 675.4L839.2 689.8L840.7 683.8L841.5 692.8L842.7 678.8L844.2 679.3L845.5 690.8L846.9 678.3L848.2 682.8L849.2 691.8L851.7 693.3L853.7 701.2L856.1 702.2L858.1 699.2L859.6 701.7L861.1 699.7L861.8 689.3L862.6 689.8L863.6 699.7L865.1 700.2L867.1 702.7L869.6 702.7L871.6 697.2L874.1 701.7L876.0 699.2L877.5 702.2L880.0 699.2L883.5 701.7L886.0 694.8L888.0 688.8L889.0 694.8L890.5 705.7L892.0 724.6L893.5 736.5L895.4 735.5L897.4 729.6L898.9 720.1L899.9 720.6L900.9 735.5L901.8 736.8L902.5 722.6L903.0 736.8L906.0 732.6L909.0 731.1L910.4 729.1L911.9 730.6L913.9 726.6L915.9 718.7L918.4 711.2L919.9 719.7L921.4 736.8L923.9 734.6L926.1 728.6L926.9 716.7L928.8 706.7L930.3 701.8L931.3 690.3L933.8 686.3L935.6 682.9L936.8 691.8L937.8 683.8L938.3 681.9L939.8 686.8L942.8 689.8L945.8 689.8L948.7 690.8L951.2 690.3L953.7 686.8L955.7 684.8L956.7 688.8L958.2 691.3L959.5 687.8L961.7 687.3L963.7 684.8L965.7 688.3L967.6 691.8L969.6 697.8L971.6 699.8L973.6 701.3L976.1 708.2L978.6 711.7L981.6 713.7L984.6 712.2L987.5 712.2L991.5 713.0L995.5 715.2L1000.5 719.2L1003.9 717.5L1007.4 719.7L1010.4 721.1L1013.9 723.4L1016.4 720.7L1018.9 715.7L1020.4 714.2L1021.9 715.9L1023.8 720.2L1026.8 722.4L1029.3 722.8L1030.0 722.1L1031.3 722.8L1034.0 726.4L1036.3 730.1L1039.3 727.4L1041.9 729.1L1044.2 729.4L1047.2 728.7L1049.9 727.2L1052.5 728.3L1055.5 725.8L1058.5 728.4L1061.1 729.7L1063.8 731.7L1066.4 733.4L1069.7 733.2L1073.0 732.1L1076.4 730.3L1079.7 729.6L1083.0 730.7L1085.0 730.4L1087.0 731.4L1089.6 734.2L1090.9 733.4L1092.9 734.4L1096.2 735.0L1100.2 735.6L1105.5 736.0L1112.8 736.7L1122.7 737.0L1122.7 737.0Z" fill="#cda72e"/>
 <path d="M343 737 L748 737 L747.9 737.0L748.0 736.0L748.3 732.3L749.3 731.7L750.7 732.3L752.3 729.3L754.7 725.3L756.3 723.3L758.0 724.0L760.3 723.0L761.7 724.0L763.3 726.3L764.7 726.0L766.3 724.7L767.7 725.3L769.3 727.3L771.0 725.3L772.7 726.3L774.7 726.3L776.7 725.7L778.3 728.0L780.3 725.7L782.0 726.3L783.7 726.0L785.3 724.0L787.3 722.0L789.3 719.3L790.0 720.1L792.5 721.4L796.0 714.7L799.2 710.7L801.9 716.4L804.9 716.1L807.9 713.7L810.9 707.2L813.9 698.7L815.4 692.6L816.9 693.0L819.8 686.3L822.3 678.3L823.8 682.8L825.8 686.8L827.8 690.8L829.3 684.3L830.8 689.8L832.3 690.8L833.0 696.8L834.3 692.8L836.3 697.7L837.2 674.9L838.2 675.4L839.2 689.8L840.7 683.8L841.5 692.8L842.7 678.8L844.2 679.3L845.5 690.8L846.9 678.3L848.2 682.8L849.2 691.8L851.7 693.3L853.7 701.2L856.1 702.2L858.1 699.2L859.6 701.7L861.1 699.7L861.8 689.3L862.6 689.8L863.6 699.7L865.1 700.2L867.1 702.7L869.6 702.7L871.6 697.2L874.1 701.7L876.0 699.2L877.5 702.2L880.0 699.2L883.5 701.7L886.0 694.8L888.0 688.8L889.0 694.8L890.5 705.7L892.0 724.6L893.5 736.5L895.4 735.5L897.4 729.6L898.9 720.1L899.9 720.6L900.9 735.5L901.8 736.8L902.5 722.6L903.0 736.8L906.0 732.6L909.0 731.1L910.4 729.1L911.9 730.6L913.9 726.6L915.9 718.7L918.4 711.2L919.9 719.7L921.4 736.8L923.9 734.6L926.1 728.6L926.9 716.7L928.8 706.7L930.3 701.8L931.3 690.3L933.8 686.3L935.6 682.9L936.8 691.8L937.8 683.8L938.3 681.9L939.8 686.8L942.8 689.8L945.8 689.8L948.7 690.8L951.2 690.3L953.7 686.8L955.7 684.8L956.7 688.8L958.2 691.3L959.5 687.8L961.7 687.3L963.7 684.8L965.7 688.3L967.6 691.8L969.6 697.8L971.6 699.8L973.6 701.3L976.1 708.2L978.6 711.7L981.6 713.7L984.6 712.2L987.5 712.2L991.5 713.0L995.5 715.2L1000.5 719.2L1003.9 717.5L1007.4 719.7L1010.4 721.1L1013.9 723.4L1016.4 720.7L1018.9 715.7L1020.4 714.2L1021.9 715.9L1023.8 720.2L1026.8 722.4L1029.3 722.8L1030.0 722.1L1031.3 722.8L1034.0 726.4L1036.3 730.1L1039.3 727.4L1041.9 729.1L1044.2 729.4L1047.2 728.7L1049.9 727.2L1052.5 728.3L1055.5 725.8L1058.5 728.4L1061.1 729.7L1063.8 731.7L1066.4 733.4L1069.7 733.2L1073.0 732.1L1076.4 730.3L1079.7 729.6L1083.0 730.7L1085.0 730.4L1087.0 731.4L1089.6 734.2L1090.9 733.4L1092.9 734.4L1096.2 735.0L1100.2 735.6L1105.5 736.0L1112.8 736.7L1122.7 737.0 L1478.6 737" fill="none" stroke="#e6b32a" stroke-width="1.1" stroke-linejoin="round"/>
 <line x1="343" x2="1478.6" y1="812.5" y2="812.5" stroke="#333" stroke-width="1.2"/>
 <g font-family="Liberation Sans, sans-serif" font-size="9.4" letter-spacing="0.4" fill="#222" stroke="#222" stroke-width="0.38"><text transform="translate(344.6 834.5) rotate(-45)" text-anchor="end" opacity="0.45">00:00</text><text transform="translate(358.4 834.5) rotate(-45)" text-anchor="end" opacity="0.45">00:16</text><text transform="translate(372.3 834.5) rotate(-45)" text-anchor="end" opacity="0.45">00:33</text><text transform="translate(386.1 834.5) rotate(-45)" text-anchor="end" opacity="0.45">00:50</text><text transform="translate(399.9 834.5) rotate(-45)" text-anchor="end" opacity="0.45">01:06</text><text transform="translate(413.8 834.5) rotate(-45)" text-anchor="end">01:23</text><text transform="translate(427.6 834.5) rotate(-45)" text-anchor="end">01:40</text><text transform="translate(441.4 834.5) rotate(-45)" text-anchor="end">01:57</text><text transform="translate(455.2 834.5) rotate(-45)" text-anchor="end">02:14</text><text transform="translate(469.1 834.5) rotate(-45)" text-anchor="end">02:30</text><text transform="translate(482.9 834.5) rotate(-45)" text-anchor="end">02:53</text><text transform="translate(496.7 834.5) rotate(-45)" text-anchor="end">03:10</text><text transform="translate(510.6 834.5) rotate(-45)" text-anchor="end">03:27</text><text transform="translate(524.4 834.5) rotate(-45)" text-anchor="end">04:55</text><text transform="translate(538.2 834.5) rotate(-45)" text-anchor="end">05:11</text><text transform="translate(552.1 834.5) rotate(-45)" text-anchor="end">05:28</text><text transform="translate(565.9 834.5) rotate(-45)" text-anchor="end">05:44</text><text transform="translate(579.7 834.5) rotate(-45)" text-anchor="end">06:01</text><text transform="translate(593.5 834.5) rotate(-45)" text-anchor="end">06:18</text><text transform="translate(607.4 834.5) rotate(-45)" text-anchor="end">06:35</text><text transform="translate(621.2 834.5) rotate(-45)" text-anchor="end">06:51</text><text transform="translate(635.0 834.5) rotate(-45)" text-anchor="end">07:08</text><text transform="translate(648.9 834.5) rotate(-45)" text-anchor="end">07:24</text><text transform="translate(662.7 834.5) rotate(-45)" text-anchor="end">07:41</text><text transform="translate(676.5 834.5) rotate(-45)" text-anchor="end">07:58</text><text transform="translate(690.4 834.5) rotate(-45)" text-anchor="end">08:15</text><text transform="translate(704.2 834.5) rotate(-45)" text-anchor="end">08:31</text><text transform="translate(718.0 834.5) rotate(-45)" text-anchor="end">08:48</text><text transform="translate(731.9 834.5) rotate(-45)" text-anchor="end">09:04</text><text transform="translate(745.7 834.5) rotate(-45)" text-anchor="end">09:21</text><text transform="translate(759.5 834.5) rotate(-45)" text-anchor="end">09:37</text><text transform="translate(773.3 834.5) rotate(-45)" text-anchor="end">09:54</text><text transform="translate(787.2 834.5) rotate(-45)" text-anchor="end">10:10</text><text transform="translate(801.0 834.5) rotate(-45)" text-anchor="end">10:27</text><text transform="translate(814.8 834.5) rotate(-45)" text-anchor="end">10:43</text><text transform="translate(828.7 834.5) rotate(-45)" text-anchor="end">10:59</text><text transform="translate(842.5 834.5) rotate(-45)" text-anchor="end">11:16</text><text transform="translate(856.3 834.5) rotate(-45)" text-anchor="end">11:32</text><text transform="translate(870.2 834.5) rotate(-45)" text-anchor="end">11:49</text><text transform="translate(884.0 834.5) rotate(-45)" text-anchor="end">12:05</text><text transform="translate(897.8 834.5) rotate(-45)" text-anchor="end">12:21</text><text transform="translate(911.6 834.5) rotate(-45)" text-anchor="end">12:38</text><text transform="translate(925.5 834.5) rotate(-45)" text-anchor="end">12:54</text><text transform="translate(939.3 834.5) rotate(-45)" text-anchor="end">13:11</text><text transform="translate(953.1 834.5) rotate(-45)" text-anchor="end">13:27</text><text transform="translate(967.0 834.5) rotate(-45)" text-anchor="end">13:44</text><text transform="translate(980.8 834.5) rotate(-45)" text-anchor="end">14:00</text><text transform="translate(994.6 834.5) rotate(-45)" text-anchor="end">14:17</text><text transform="translate(1008.5 834.5) rotate(-45)" text-anchor="end">14:33</text><text transform="translate(1022.3 834.5) rotate(-45)" text-anchor="end">14:49</text><text transform="translate(1036.1 834.5) rotate(-45)" text-anchor="end">15:06</text><text transform="translate(1050.0 834.5) rotate(-45)" text-anchor="end">15:22</text><text transform="translate(1063.8 834.5) rotate(-45)" text-anchor="end">15:39</text><text transform="translate(1077.6 834.5) rotate(-45)" text-anchor="end">15:55</text><text transform="translate(1091.4 834.5) rotate(-45)" text-anchor="end">16:12</text><text transform="translate(1105.3 834.5) rotate(-45)" text-anchor="end">16:28</text><text transform="translate(1119.1 834.5) rotate(-45)" text-anchor="end">16:44</text><text transform="translate(1132.9 834.5) rotate(-45)" text-anchor="end">17:01</text><text transform="translate(1146.8 834.5) rotate(-45)" text-anchor="end">17:18</text><text transform="translate(1160.6 834.5) rotate(-45)" text-anchor="end">17:35</text><text transform="translate(1174.4 834.5) rotate(-45)" text-anchor="end">17:51</text><text transform="translate(1188.3 834.5) rotate(-45)" text-anchor="end">18:08</text><text transform="translate(1202.1 834.5) rotate(-45)" text-anchor="end">18:25</text><text transform="translate(1215.9 834.5) rotate(-45)" text-anchor="end">18:41</text><text transform="translate(1229.8 834.5) rotate(-45)" text-anchor="end">18:58</text><text transform="translate(1243.6 834.5) rotate(-45)" text-anchor="end">19:15</text><text transform="translate(1257.4 834.5) rotate(-45)" text-anchor="end">19:31</text><text transform="translate(1271.2 834.5) rotate(-45)" text-anchor="end">19:48</text><text transform="translate(1285.1 834.5) rotate(-45)" text-anchor="end">20:05</text><text transform="translate(1298.9 834.5) rotate(-45)" text-anchor="end">20:21</text><text transform="translate(1312.7 834.5) rotate(-45)" text-anchor="end">20:38</text><text transform="translate(1326.6 834.5) rotate(-45)" text-anchor="end">20:55</text><text transform="translate(1340.4 834.5) rotate(-45)" text-anchor="end">21:11</text><text transform="translate(1354.2 834.5) rotate(-45)" text-anchor="end">21:28</text><text transform="translate(1368.1 834.5) rotate(-45)" text-anchor="end">21:45</text><text transform="translate(1381.9 834.5) rotate(-45)" text-anchor="end">22:01</text><text transform="translate(1395.7 834.5) rotate(-45)" text-anchor="end">22:18</text><text transform="translate(1409.5 834.5) rotate(-45)" text-anchor="end">22:34</text><text transform="translate(1423.4 834.5) rotate(-45)" text-anchor="end">22:51</text><text transform="translate(1437.2 834.5) rotate(-45)" text-anchor="end">23:08</text><text transform="translate(1451.0 834.5) rotate(-45)" text-anchor="end">23:25</text><text transform="translate(1464.9 834.5) rotate(-45)" text-anchor="end">23:41</text><text transform="translate(1478.7 834.5) rotate(-45)" text-anchor="end">23:58</text></g>
</svg>

 <!-- legend -->
 <div style="left:0;top:0;width:1510px;height:945px;font-size:10px;letter-spacing:.24px;color:#2c2c2c">
  <div style="left:587px;top:876px;width:9.3px;height:9.3px;border-radius:50%;background:#fdd835"></div><div style="left:605px;top:874px;line-height:14px;white-space:nowrap">Actual solar power</div>
  <div style="left:717px;top:876px;width:9.3px;height:9.3px;border-radius:50%;background:#808080"></div><div style="left:735px;top:874px;line-height:14px;white-space:nowrap">Grid power</div>
  <div style="left:812px;top:876px;width:9.3px;height:9.3px;border-radius:50%;background:#e0e0e0"></div><div style="left:830px;top:874px;line-height:14px;white-space:nowrap">Plant power</div>
  <div style="left:912px;top:876px;width:9.3px;height:9.3px;border-radius:50%;background:#fcb712"></div><div style="left:930px;top:874px;line-height:14px;white-space:nowrap">Plant power direct sun</div>
  <div style="left:1060px;top:876px;width:9.3px;height:9.3px;border-radius:50%;background:#6b6452"></div><div style="left:1078px;top:874px;line-height:14px;white-space:nowrap">Plant power direct grid</div>
 </div>
 <!-- download button + popup + highlight -->
 <div style="left:292px;top:867px;width:27px;height:27px;background:#ebebeb;border-radius:2px"></div>
 <svg style="left:297.2px;top:871px" width="17" height="16" viewBox="0 0 17 16"><path d="M8.500 1.200v9.400" stroke="#505050" stroke-width="1.700"/><path d="M4.600 6.800l3.900 3.900 3.900-3.900" fill="none" stroke="#505050" stroke-width="1.700"/><path d="M.7 14.400h15.600" stroke="#505050" stroke-width="1.900"/></svg>
 <div style="left:291px;top:801.5px;width:103px;height:64.3px;background:#fff;border-radius:3px;box-shadow:0 3px 8px rgba(0,0,0,.33),0 0 2px rgba(0,0,0,.18)"></div>
 <div style="left:300px;top:810.3px;font-size:8.3px;letter-spacing:-.46px;color:#111;line-height:12px;white-space:nowrap">Download JPEG Image</div>
 <div style="left:300px;top:828.3px;font-size:8.3px;letter-spacing:-.46px;color:#111;line-height:12px;white-space:nowrap">Download PDF document</div>
 <div style="left:300px;top:846.3px;font-size:8.3px;letter-spacing:-.46px;color:#111;line-height:12px;white-space:nowrap">Download CSV</div>
 <div style="left:283px;top:796px;width:117px;height:107px;border:3px solid #f44e4e;border-radius:8px"></div>
</div>
</body></html>
